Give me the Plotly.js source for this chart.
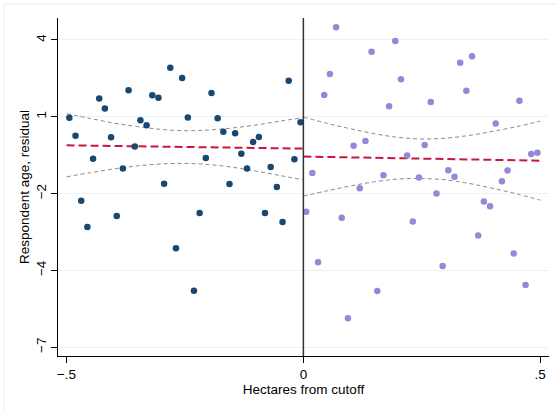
<!DOCTYPE html>
<html>
<head>
<meta charset="utf-8">
<script src="https://cdn.plot.ly/plotly-3.0.1.min.js"></script>
<style>html,body{margin:0;padding:0;background:#fff;}#chart{width:558px;height:410px;}</style>
</head>
<body>
<div id="chart"></div>
<script>
// Left of cutoff (bin means)
const leftX = [-0.494,-0.481,-0.469,-0.456,-0.444,-0.431,-0.419,-0.406,-0.394,-0.381,
               -0.369,-0.356,-0.344,-0.331,-0.319,-0.306,-0.294,-0.281,-0.269,-0.256,
               -0.244,-0.231,-0.219,-0.206,-0.194,-0.181,-0.169,-0.156,-0.144,-0.131,
               -0.119,-0.106,-0.094,-0.081,-0.069,-0.056,-0.044,-0.031,-0.019,-0.006];
const leftY = [1.16,0.51,-1.86,-2.82,-0.33,1.87,1.50,0.45,-2.42,-0.69,
               2.17,0.12,1.07,0.89,1.98,1.89,-1.24,2.99,-3.59,2.61,
               1.17,-5.14,-2.31,-0.30,2.07,1.15,0.65,-1.25,0.60,-0.15,
               -0.69,0.28,0.46,-2.31,-0.63,-1.36,-2.64,2.51,-0.35,1.00];
// Right of cutoff (bin means)
const rightX = [0.006,0.019,0.031,0.044,0.056,0.069,0.081,0.094,0.106,0.119,
                0.131,0.144,0.156,0.169,0.181,0.194,0.206,0.219,0.231,0.244,
                0.256,0.269,0.281,0.294,0.306,0.319,0.331,0.344,0.356,0.369,
                0.381,0.394,0.406,0.419,0.431,0.444,0.456,0.469,0.481,0.494];
const rightY = [-2.26,-0.85,-4.10,1.99,2.76,4.46,-2.48,-6.14,0.14,-1.41,
                0.32,3.57,-5.15,-0.93,1.58,3.96,2.57,-0.21,-2.62,-1.01,
                0.17,1.74,-1.60,-4.24,-0.75,-0.99,3.17,2.15,3.41,-3.13,
                -1.89,-2.06,0.95,-1.15,-0.76,-3.78,1.78,-4.93,-0.16,-0.11];
// Linear fits
const fitLeftX = [-0.5, 0];
const fitLeftY = [0.16, 0.04];
const fitRightX = [0, 0.5];
const fitRightY = [-0.25, -0.40];
// Confidence bands
const ciLeftX = [-0.5,-0.45,-0.4,-0.35,-0.3,-0.25,-0.2,-0.15,-0.1,-0.05,0];
const ciLeftUp = [1.31,1.14,0.97,0.84,0.74,0.69,0.72,0.79,0.90,1.04,1.17];
const ciLeftLo = [-0.99,-0.84,-0.70,-0.59,-0.52,-0.50,-0.54,-0.64,-0.78,-0.94,-1.10];
const ciRightX = [0,0.05,0.1,0.15,0.2,0.25,0.3,0.35,0.4,0.45,0.5];
const ciRightUp = [1.19,0.96,0.76,0.58,0.45,0.39,0.42,0.52,0.67,0.84,1.04];
const ciRightLo = [-1.69,-1.50,-1.32,-1.17,-1.07,-1.05,-1.10,-1.23,-1.41,-1.61,-1.84];
// Axis ticks
const xTickVals = [-0.5, 0, 0.5];
const xTickText = ["\u2212.5", "0", ".5"];
const yTickVals = [-7.2, -4.4, -1.6, 1.2, 4.0];
const yTickText = ["\u22127", "\u22124", "\u22122", "1", "4"];

const ciLine = {color: '#8a8a8a', width: 1, dash: '4px,3px'};
const fitLine = {color: '#c8163f', width: 2, dash: '8px,4px'};

const traces = [
  {x: ciLeftX, y: ciLeftUp, mode: 'lines', line: Object.assign({shape: 'spline'}, ciLine), hoverinfo: 'skip'},
  {x: ciLeftX, y: ciLeftLo, mode: 'lines', line: Object.assign({shape: 'spline'}, ciLine), hoverinfo: 'skip'},
  {x: ciRightX, y: ciRightUp, mode: 'lines', line: Object.assign({shape: 'spline'}, ciLine), hoverinfo: 'skip'},
  {x: ciRightX, y: ciRightLo, mode: 'lines', line: Object.assign({shape: 'spline'}, ciLine), hoverinfo: 'skip'},
  {x: fitLeftX, y: fitLeftY, mode: 'lines', line: fitLine},
  {x: fitRightX, y: fitRightY, mode: 'lines', line: fitLine},
  {x: leftX, y: leftY, mode: 'markers', marker: {color: '#1a476f', size: 6.5}},
  {x: rightX, y: rightY, mode: 'markers', marker: {color: '#9488d8', size: 6.5}}
];

const font = {family: 'Liberation Sans, Arial, sans-serif', size: 13.5, color: '#000'};

const layout = {
  width: 558, height: 410,
  margin: {l: 58, r: 9, t: 18, b: 54},
  paper_bgcolor: '#ffffff', plot_bgcolor: '#ffffff',
  showlegend: false,
  font: font,
  xaxis: {
    range: [-0.518, 0.5185],
    tickvals: xTickVals, ticktext: xTickText,
    showline: true, linecolor: '#000', linewidth: 1,
    ticks: 'outside', ticklen: 6, tickcolor: '#000', tickwidth: 1,
    showgrid: false, zeroline: false,
    tickfont: font,
    title: {text: 'Hectares from cutoff', font: font, standoff: 2}
  },
  yaxis: {
    range: [-7.52, 4.80],
    tickvals: yTickVals, ticktext: yTickText,
    tickangle: -90,
    showline: true, linecolor: '#000', linewidth: 1,
    ticks: 'outside', ticklen: 6, tickcolor: '#000', tickwidth: 1,
    showgrid: true, gridcolor: '#eaf2f3', gridwidth: 1,
    zeroline: false,
    tickfont: font,
    title: {text: 'Respondent age, residual', font: font, standoff: 0}
  },
  shapes: [
    {type: 'line', xref: 'x', yref: 'paper', x0: 0, x1: 0, y0: 0, y1: 1,
     line: {color: '#333333', width: 1.5}},
    {type: 'rect', xref: 'paper', yref: 'paper', x0: -0.110, x1: 1.03, y0: -0.18, y1: 1.041,
     line: {color: '#e6eef0', width: 1}, fillcolor: 'rgba(0,0,0,0)', layer: 'below'}
  ]
};

Plotly.newPlot('chart', traces, layout, {staticPlot: true, displayModeBar: false});
</script>
</body>
</html>
